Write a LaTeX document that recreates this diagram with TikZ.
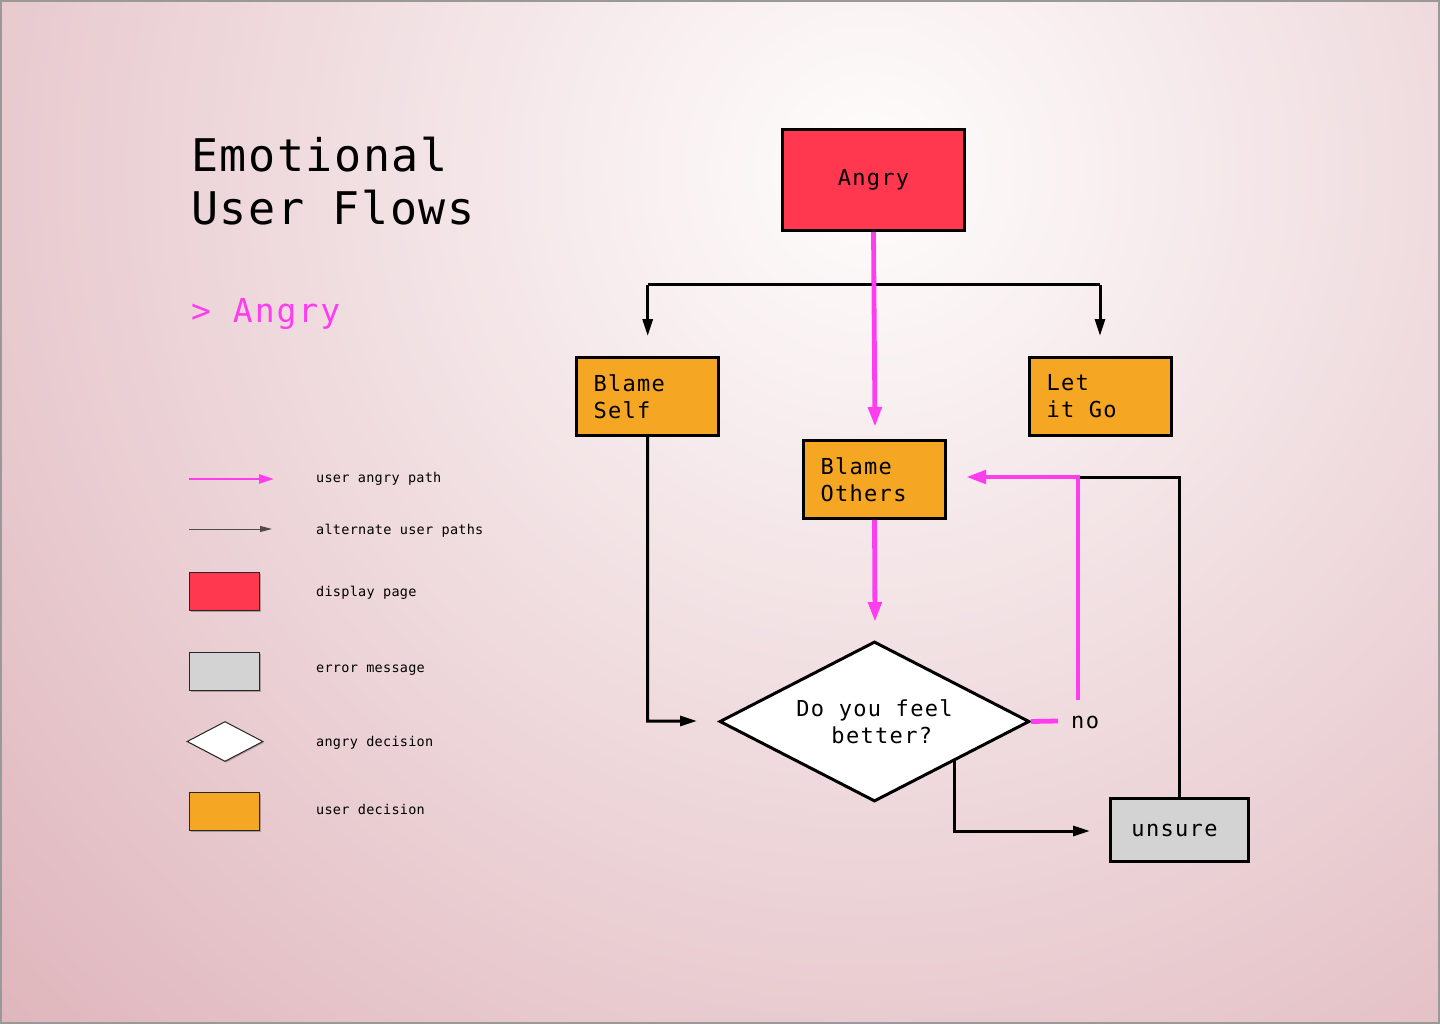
\documentclass[tikz,border=0pt]{standalone}
\usepackage{fontspec}
\setmonofont{DejaVu Sans Mono}
\newfontfamily\titlefont[LetterSpace=3.5]{DejaVu Sans Mono}
\newfontfamily\boxfont[LetterSpace=6]{DejaVu Sans Mono}
\newfontfamily\legfont[LetterSpace=2]{DejaVu Sans Mono}
\usetikzlibrary{arrows.meta,shapes.geometric,shadows}

\definecolor{angryred}{HTML}{FF3850}
\definecolor{userorange}{HTML}{F5A623}
\definecolor{errgray}{HTML}{D3D3D3}
\definecolor{pathmag}{HTML}{FF3DF0}
\definecolor{bgin}{HTML}{FDFAFA}
\definecolor{bgout}{HTML}{DEB4BB}
\definecolor{bgfar}{HTML}{D4A6AE}
\definecolor{framegray}{HTML}{999999}
\pgfdeclareradialshading{bgshade}{\pgfpoint{0bp}{0bp}}{color(0bp)=(bgin); color(1bp)=(bgin); color(25bp)=(bgout); color(50bp)=(bgfar)}

\tikzset{
  flowbox/.style={draw=black, line width=3.2pt, rectangle, inner ysep=0pt,
    font=\boxfont\fontsize{22}{27}\selectfont},
  leftbox/.style={flowbox, align=left, text width=108pt, inner xsep=17pt,
    minimum width=142pt, minimum height=78pt},
  decide/.style={draw=black, line width=3pt, diamond, aspect=1.92, fill=white,
    inner sep=0pt, minimum width=310pt, minimum height=160pt, align=center,
    font=\boxfont\fontsize{22}{27}\selectfont},
  angrypath/.style={draw=pathmag, line width=4.8pt,
    -{Triangle[length=20pt,width=13pt]}},
  altpath/.style={draw=black, line width=3pt,
    -{Triangle[length=17pt,width=10pt]}},
  plainalt/.style={draw=black, line width=3pt},
  plainmag/.style={draw=pathmag, line width=4.8pt},
  legtext/.style={anchor=base west, inner sep=0pt,
    font=\legfont\fontsize{13.5}{16}\selectfont},
  legshadow/.style={drop shadow={shadow xshift=1.2pt, shadow yshift=-1.2pt,
    opacity=0.25, fill=black}},
  legbox/.style={draw=black!85, line width=1pt, rectangle, inner sep=0pt,
    minimum width=70pt, minimum height=38pt, legshadow},
}

\begin{document}
\begin{tikzpicture}[x=1pt,y=-1pt]
\useasboundingbox (0,0) rectangle (1440,1024);
\begin{scope}
  \clip (0,0) rectangle (1440,1024);
  \shade[shading=bgshade] (870,170) circle (1250);
\end{scope}
\draw[framegray, line width=2pt] (1,1) rectangle (1439,1023);

% title
\node[anchor=base west, inner sep=0pt, align=left,
      font=\titlefont\fontsize{45}{53}\selectfont] (title) at (191,225)
      {Emotional\\User Flows};
\node[anchor=base west, inner sep=0pt, text=pathmag,
      font=\boxfont\fontsize{33}{40}\selectfont] (sub) at (191,322) {> Angry};

% legend
\coordinate (la1) at (189,479);
\coordinate (la2) at (274,479);
\draw[draw=pathmag, line width=2.5pt, -{Triangle[length=15pt,width=9pt]}] (la1) -- (la2);
\coordinate (lb1) at (189,529);
\coordinate (lb2) at (272,529);
\draw[draw=black!70, line width=1pt, -{Triangle[length=12pt,width=6pt]}] (lb1) -- (lb2);
\node[legbox, fill=angryred] (lred) at (224.5,591.5) {};
\node[legbox, fill=errgray] (lgray) at (224.5,671.5) {};
\node[draw=black!85, line width=1pt, diamond, fill=white, inner sep=0pt,
      minimum width=76pt, minimum height=40pt, legshadow] (ldia) at (225,741.5) {};
\node[legbox, fill=userorange] (lorange) at (224.5,811.5) {};
\node[legtext] (t1) at (316,482) {user angry path};
\node[legtext] (t2) at (316,534) {alternate user paths};
\node[legtext] (t3) at (316,596) {display page};
\node[legtext] (t4) at (316,672) {error message};
\node[legtext] (t5) at (316,746) {angry decision};
\node[legtext] (t6) at (316,814) {user decision};

% flow nodes
\node[flowbox, fill=angryred, minimum width=182pt, minimum height=101pt]
      (angry) at (873.5,180) {Angry};
\node[leftbox, fill=userorange] (bself) at (647.5,396.5) {Blame\\Self};
\node[leftbox, fill=userorange] (letgo) at (1100.5,396.5) {Let\\it\kern14.5pt Go};
\node[leftbox, fill=userorange] (bothers) at (874.5,479.5) {Blame\\Others};
\node[decide] (feel) at (874.5,721.5) {Do you feel\\\ better?};
\node[flowbox, fill=errgray, minimum width=138pt, minimum height=63pt]
      (unsure) at (1179.5,830) {unsure\hspace*{10pt}};
\node[anchor=base west, inner sep=0pt, font=\boxfont\fontsize{22}{27}\selectfont]
      (no) at (1071,728) {no};

% helper coordinates
\coordinate (split) at (875,285);
\coordinate (bsTip) at (647.7,336);
\coordinate (lgTip) at (1100,336);
\coordinate (boTip) at (875,427);
\coordinate (feTip) at (875,622);
\coordinate (bsTurn) at (647.7,721);
\coordinate (feLeftTip) at (697,721);
\coordinate (noEnd) at (1058,721);
\coordinate (noUp) at (1078,700);
\coordinate (noCorner) at (1078,477);
\coordinate (boRightTip) at (966,477);
\coordinate (unCorner) at (1179,477);
\coordinate (feOut) at (954,761);
\coordinate (feDown) at (954,831);
\coordinate (unTip) at (1090,831);

% alternate (black) paths
\draw[plainalt] (split) -- (split -| bsTip);
\draw[altpath] (split -| bsTip) -- (bsTip);
\draw[plainalt] (split) -- (split -| lgTip);
\draw[altpath] (split -| lgTip) -- (lgTip);
\draw[altpath] (bself.south) -- (bsTurn) -- (feLeftTip);
\draw[plainalt] (unsure.north -| unCorner) -- (unCorner) -- (noCorner);
\draw[altpath] (feOut) -- (feDown) -- (unTip);

% angry (magenta) paths
\draw[angrypath] (angry.south) -- (boTip);
\draw[angrypath] (bothers.south) -- (feTip);
\draw[plainmag] (feel.east) -- (noEnd);
\draw[angrypath] (noUp) -- (noCorner) -- (boRightTip);
\end{tikzpicture}
\end{document}
